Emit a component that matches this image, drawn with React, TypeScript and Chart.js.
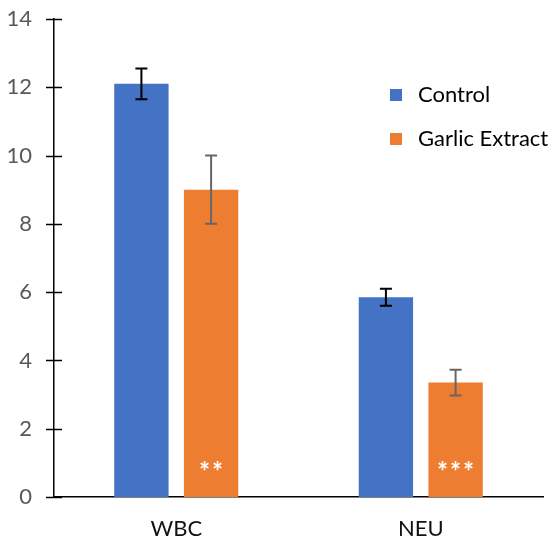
import React, { useEffect, useRef } from "react";
import { Chart, registerables } from "chart.js";

Chart.register(...registerables);

const categories = ["WBC", "NEU"];
const seriesNames = ["Control", "Garlic Extract"];
const controlValues = [12.1, 5.85];
const garlicValues = [9.0, 3.35];
const controlErrors = [0.45, 0.25];
const garlicErrors = [1.0, 0.38];
const garlicStars = ["**", "***"];
const yTicks = [0, 2, 4, 6, 8, 10, 12, 14];

const BLUE = "#4472C4";
const ORANGE = "#ED7D31";
const FONT = "Lato, 'Open Sans', sans-serif";

const errorsByDataset = [controlErrors, garlicErrors];
const errorColors = ["#000000", "#666666"];
const starsByDataset: (string[] | null)[] = [null, garlicStars];

const overlayPlugin = {
  id: "overlay",
  afterDatasetsDraw(chart: any) {
    const ctx = chart.ctx;
    const y = chart.scales.y;
    const area = chart.chartArea;
    ctx.save();
    ctx.strokeStyle = "#000";
    ctx.lineWidth = 1.5;
    yTicks.forEach((t) => {
      const py = Math.round(y.getPixelForValue(t)) + 0.5;
      ctx.beginPath();
      ctx.moveTo(area.left - 8, py);
      ctx.lineTo(area.left + 8, py);
      ctx.stroke();
    });
    chart.data.datasets.forEach((ds: any, di: number) => {
      const meta = chart.getDatasetMeta(di);
      meta.data.forEach((bar: any, i: number) => {
        const v = ds.data[i];
        const e = errorsByDataset[di][i];
        const x = bar.x;
        const top = y.getPixelForValue(v + e);
        const bot = y.getPixelForValue(v - e);
        ctx.strokeStyle = errorColors[di];
        ctx.lineWidth = 2;
        ctx.beginPath();
        ctx.moveTo(x, top);
        ctx.lineTo(x, bot);
        ctx.moveTo(x - 6, top);
        ctx.lineTo(x + 6, top);
        ctx.moveTo(x - 6, bot);
        ctx.lineTo(x + 6, bot);
        ctx.stroke();
        const stars = starsByDataset[di];
        if (stars) {
          const s = stars[i];
          const n = s.length;
          const gap = 13;
          ctx.fillStyle = "#ffffff";
          ctx.font = `bold 26px ${FONT}`;
          ctx.textAlign = "center";
          ctx.textBaseline = "alphabetic";
          for (let k = 0; k < n; k++) {
            const sx = x + (k - (n - 1) / 2) * gap;
            ctx.fillText(s[k], sx, area.bottom - 16);
          }
        }
      });
    });
    const colors = [BLUE, ORANGE];
    ctx.font = `22px ${FONT}`;
    ctx.textAlign = "left";
    ctx.textBaseline = "middle";
    seriesNames.forEach((name, i) => {
      const ly = 95 + i * 44;
      ctx.fillStyle = colors[i];
      ctx.fillRect(390, ly - 6, 12, 12);
      ctx.fillStyle = "#000";
      ctx.fillText(name, 418, ly);
    });
    ctx.restore();
  },
};

export default function App() {
  const ref = useRef<HTMLCanvasElement>(null);
  useEffect(() => {
    if (!ref.current) return;
    const chart = new Chart(ref.current, {
      type: "bar",
      data: {
        labels: categories,
        datasets: [
          {
            label: seriesNames[0],
            data: controlValues,
            backgroundColor: BLUE,
            categoryPercentage: 0.57,
            barPercentage: 0.78,
          },
          {
            label: seriesNames[1],
            data: garlicValues,
            backgroundColor: ORANGE,
            categoryPercentage: 0.57,
            barPercentage: 0.78,
          },
        ],
      },
      options: {
        animation: false,
        responsive: false,
        layout: { padding: { top: 19, right: 7, left: 0, bottom: 0 } },
        plugins: { legend: { display: false }, tooltip: { enabled: false } },
        scales: {
          x: {
            grid: { display: false },
            border: { display: true, color: "#000", width: 1.5 },
            ticks: { color: "#111", font: { family: FONT, size: 22 }, padding: 11 },
            afterFit: (s: any) => {
              s.height = 41;
              s.paddingLeft = 0;
              s.paddingRight = 0;
            },
          },
          y: {
            min: 0,
            max: 14,
            grid: { display: false },
            border: { display: true, color: "#000", width: 1.5 },
            ticks: {
              stepSize: 2,
              color: "#595959",
              font: { family: FONT, size: 22 },
              padding: 14,
            },
            afterFit: (s: any) => {
              s.width = 54;
              s.paddingTop = 0;
              s.paddingBottom = 0;
            },
          },
        },
      },
      plugins: [overlayPlugin],
    });
    return () => chart.destroy();
  }, []);
  return (
    <div style={{ position: "absolute", left: 0, top: 0, width: 550, height: 538, background: "#fff" }}>
      <canvas ref={ref} width={550} height={538} />
    </div>
  );
}
